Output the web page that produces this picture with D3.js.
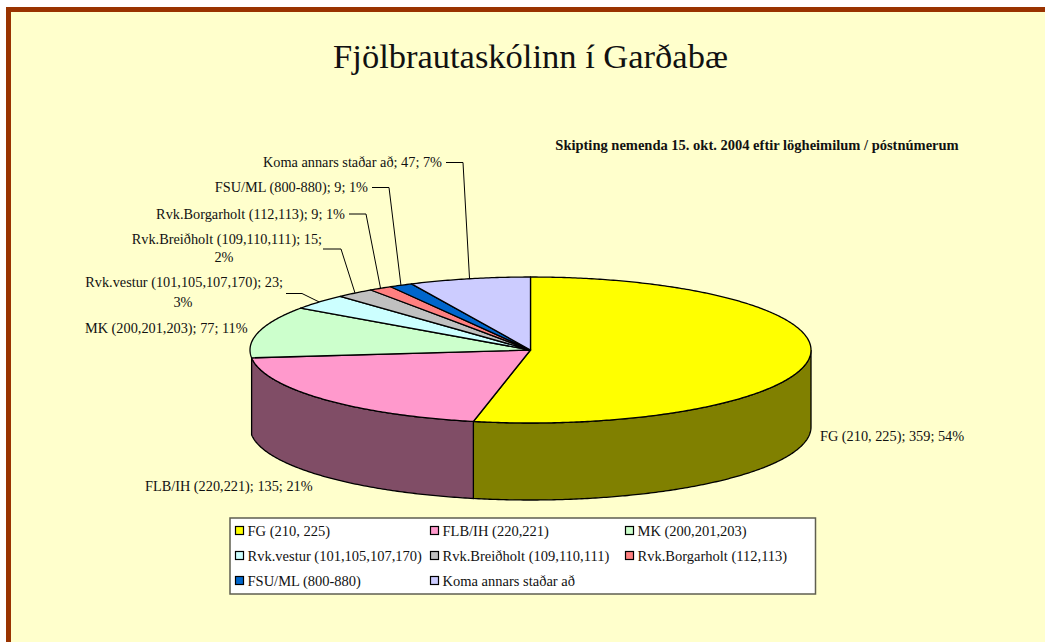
<!DOCTYPE html>
<html><head><meta charset="utf-8">
<script src="https://cdn.jsdelivr.net/npm/d3@7/dist/d3.min.js"></script>
<style>html,body{margin:0;padding:0;background:#fff}svg{display:block}text{font-family:"Liberation Serif",serif;fill:#111}</style>
</head><body><svg id="c" width="1045" height="642"></svg>
<script>
const categories=["FG (210, 225)","FLB/IH (220,221)","MK (200,201,203)","Rvk.vestur (101,105,107,170)","Rvk.Breiðholt (109,110,111)","Rvk.Borgarholt (112,113)","FSU/ML (800-880)","Koma annars staðar að"];
const values=[359,135,77,23,15,9,9,47];
const percents=[54,21,11,3,2,1,1,7];
const topColors=["#FFFF00","#FF99CC","#CCFFCC","#CCFFFF","#C0C0C0","#FF8080","#0066CC","#CCCCFF"];
const sideColors=["#808000","#804D66"];
const title="Fjölbrautaskólinn í Garðabæ";
const subtitle="Skipting nemenda 15. okt. 2004 eftir lögheimilum / póstnúmerum";

const svg=d3.select("#c");
svg.append("rect").attr("x",8.5).attr("y",9.5).attr("width",1040).attr("height",640).attr("fill","#FFFFCC").attr("stroke","#993300").attr("stroke-width",5);
svg.append("text").attr("x",530.5).attr("y",68).attr("text-anchor","middle").attr("font-size",34.5).text(title);
svg.append("text").attr("x",757).attr("y",150).attr("text-anchor","middle").attr("font-size",14.5).attr("font-weight","bold").text(subtitle);

const cx=530.5,cy=350,rx=280.5,ry=73,depth=77;
const pie=d3.pie().sort(null).value(d=>d)(values);
const px=d3.scaleLinear().domain([-1,1]).range([cx-rx,cx+rx]);
const py=d3.scaleLinear().domain([-1,1]).range([cy-ry,cy+ry]);
const X=a=>px(Math.sin(a)),Y=a=>py(-Math.cos(a));
const arcPts=(a0,a1)=>{const n=Math.max(2,Math.ceil((a1-a0)/0.01));return d3.range(n+1).map(i=>a0+(a1-a0)*i/n);};
const line=d3.line().x(d=>d[0]).y(d=>d[1]);

// Visible wall of the two front slices
const wallEnd=3*Math.PI/2;
pie.slice(0,2).forEach((p,i)=>{
  const a0=Math.max(p.startAngle,Math.PI/2),a1=Math.min(p.endAngle,wallEnd);
  const pts=arcPts(a0,a1);
  const outer=pts.map(a=>[X(a),Y(a)]).concat(pts.slice().reverse().map(a=>[X(a),Y(a)+depth]));
  svg.append("path").attr("d",line(outer)+"Z").attr("fill",sideColors[i]).attr("stroke","#000").attr("stroke-width",1.3);
});
// Top face
pie.forEach((p,i)=>{
  const pts=arcPts(p.startAngle,p.endAngle).map(a=>[X(a),Y(a)]);
  svg.append("path").attr("d",line([[cx,cy]].concat(pts))+"Z").attr("fill",topColors[i]).attr("stroke","#000").attr("stroke-width",1.3).attr("stroke-linejoin","round");
});

// Data labels
const labelSize=14.3;
const labels=[
 {i:0,x:820,y:441,anchor:"start"},
 {i:1,x:145,y:491,anchor:"start"},
 {i:2,x:85,y:333,anchor:"start"},
 {i:3,x:283,y:287,anchor:"end",wrap:[183,307]},
 {i:4,x:322,y:244,anchor:"end",wrap:[224,262]},
 {i:5,x:345,y:219,anchor:"end"},
 {i:6,x:368,y:192,anchor:"end"},
 {i:7,x:442,y:167,anchor:"end"}
];
labels.forEach(l=>{
  const base=categories[l.i]+"; "+values[l.i]+"; ";
  if(l.wrap){
    svg.append("text").attr("x",l.x).attr("y",l.y).attr("text-anchor",l.anchor).attr("font-size",labelSize).text(base.trimEnd());
    svg.append("text").attr("x",l.wrap[0]).attr("y",l.wrap[1]).attr("text-anchor","middle").attr("font-size",labelSize).text(percents[l.i]+"%");
  } else {
    svg.append("text").attr("x",l.x).attr("y",l.y).attr("text-anchor",l.anchor).attr("font-size",labelSize).text(base+percents[l.i]+"%");
  }
});
// Leader lines run from the label to the rim at the slice's mid-angle
const leaders=[
 {i:3,from:[286,293.5],knee:[302,293.5]},
 {i:4,from:[323,249],knee:[341,249]},
 {i:5,from:[349,214],knee:[366,214]},
 {i:6,from:[372,187.5],knee:[389,187.5]},
 {i:7,from:[446,162.5],knee:[463,162.5]}
];
leaders.forEach(l=>{
  const p=pie[l.i],m=(p.startAngle+p.endAngle)/2;
  svg.append("path").attr("d",line([l.from,l.knee,[X(m),Y(m)]])).attr("fill","none").attr("stroke","#000").attr("stroke-width",1);
});

// Legend
svg.append("rect").attr("x",230).attr("y",518).attr("width",585.5).attr("height",76).attr("fill","#fff").attr("stroke","#5f5f50").attr("stroke-width",1.5);
const colX=d3.scalePoint().domain([0,1,2]).range([235.5,625.5]);
const rowY=d3.scalePoint().domain([0,1,2]).range([531,581]);
categories.forEach((c,i)=>{
  const col=i%3,row=Math.floor(i/3);
  svg.append("rect").attr("x",colX(col)).attr("y",rowY(row)-4.5).attr("width",8).attr("height",8).attr("fill",topColors[i]).attr("stroke","#000").attr("stroke-width",1.2);
  svg.append("text").attr("x",colX(col)+12).attr("y",rowY(row)+5).attr("font-size",14.5).text(c);
});
</script></body></html>
